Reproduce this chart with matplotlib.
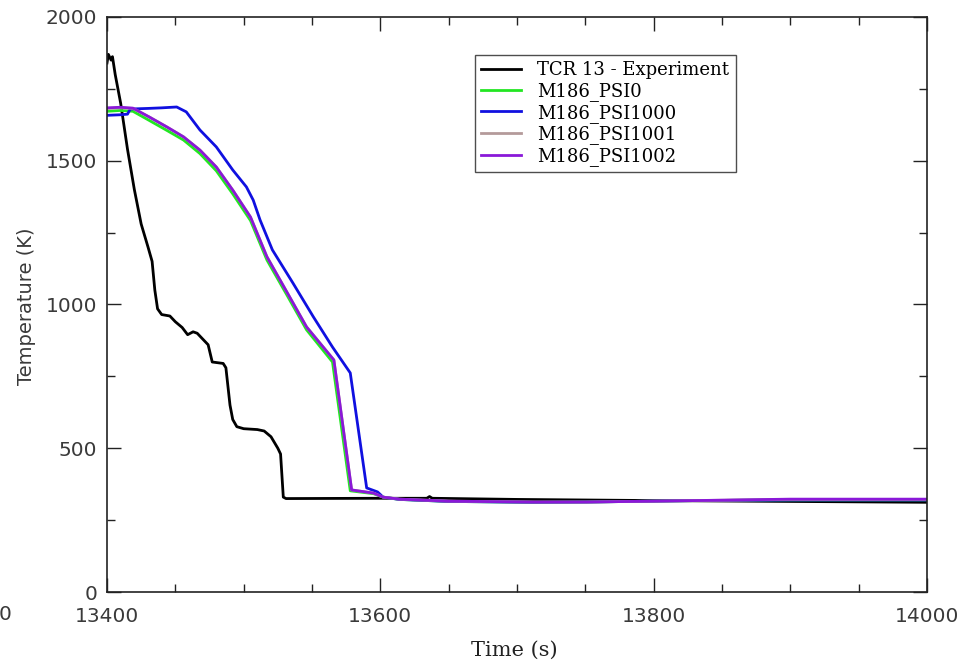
import matplotlib
matplotlib.use("Agg")
import matplotlib.pyplot as plt
from matplotlib.ticker import MultipleLocator

# ---- data ----
exp_t = [13400, 13401, 13403, 13404, 13406, 13410, 13415, 13420, 13425, 13430, 13433,
         13435, 13437, 13440, 13446, 13450, 13455, 13459, 13463, 13466, 13470, 13474,
         13477, 13485, 13487, 13490, 13492, 13495, 13500, 13510, 13515, 13520, 13525,
         13527, 13529, 13531, 13600, 13634, 13636, 13638, 13700, 13800, 14000]
exp_T = [1840, 1870, 1850, 1862, 1800, 1700, 1540, 1400, 1280, 1200, 1150,
         1050, 985, 965, 960, 940, 920, 895, 905, 900, 880, 860,
         800, 795, 780, 650, 600, 575, 568, 565, 560, 540, 500,
         480, 330, 325, 326, 326, 332, 326, 322, 318, 312]

psi0_t = [13400, 13410, 13419, 13431, 13444, 13456, 13468, 13480, 13492, 13505, 13517,
          13532, 13546, 13565, 13578, 13595, 13602, 13614, 13650, 13712, 13751, 13800,
          13830, 13900, 14000]
psi0_T = [1672, 1675, 1672, 1640, 1605, 1572, 1525, 1465, 1385, 1292, 1155,
          1030, 912, 800, 352, 342, 330, 322, 315, 312, 313, 316,
          318, 320, 320]

psi1000_t = [13400, 13410, 13415, 13417, 13430, 13440, 13451, 13458, 13468, 13480,
             13492, 13502, 13507, 13512, 13521, 13536, 13551, 13565, 13578, 13590,
             13598, 13602, 13614, 13650, 13712, 13751, 13800, 13830, 13900, 14000]
psi1000_T = [1658, 1660, 1662, 1680, 1682, 1684, 1687, 1670, 1607, 1548,
             1468, 1409, 1363, 1294, 1190, 1075, 957, 852, 762, 362,
             348, 330, 322, 315, 312, 313, 316, 318, 320, 320]

psi1001_t = [13400, 13410, 13419, 13431, 13444, 13456, 13468, 13480, 13492, 13505, 13517,
             13532, 13546, 13566, 13579, 13595, 13602, 13614, 13650, 13712, 13751, 13800,
             13830, 13900, 14000]
psi1001_T = [1682, 1684, 1682, 1652, 1617, 1583, 1537, 1478, 1398, 1304, 1166,
             1040, 922, 807, 355, 344, 330, 323, 316, 313, 313, 316,
             318, 322, 322]

psi1002_t = [13400, 13410, 13419, 13431, 13444, 13456, 13468, 13480, 13492, 13505, 13517,
             13532, 13546, 13566, 13579, 13595, 13602, 13614, 13650, 13712, 13751, 13800,
             13830, 13900, 14000]
psi1002_T = [1684, 1686, 1683, 1652, 1617, 1583, 1537, 1478, 1398, 1304, 1166,
             1040, 922, 807, 355, 344, 330, 323, 316, 313, 313, 316,
             318, 323, 323]

labels = ["TCR 13 - Experiment", "M186_PSI0", "M186_PSI1000", "M186_PSI1001", "M186_PSI1002"]
colors = ["#000000", "#22e622", "#1010e0", "#b49a9a", "#8a18d8"]

# ---- figure ----
fig = plt.figure(figsize=(9.77, 6.63), dpi=100)
ax = fig.add_axes([107/977, 1 - 592/663, 820/977, 575/663])

series = [(exp_t, exp_T), (psi0_t, psi0_T), (psi1000_t, psi1000_T),
          (psi1001_t, psi1001_T), (psi1002_t, psi1002_T)]
for (t, T), lab, c in zip(series, labels, colors):
    ax.plot(t, T, color=c, lw=2.0, label=lab)

ax.set_xlim(13400, 14000)
ax.set_ylim(0, 2000)
ax.xaxis.set_major_locator(MultipleLocator(200))
ax.xaxis.set_minor_locator(MultipleLocator(50))
ax.yaxis.set_major_locator(MultipleLocator(500))
ax.yaxis.set_minor_locator(MultipleLocator(250))
ax.tick_params(which="both", direction="in", top=True, right=True, color="#222222")
ax.tick_params(which="major", length=10, width=1.0)
ax.tick_params(which="minor", length=6, width=1.0)
ax.tick_params(axis="x", labelsize=14.5, pad=11, labelcolor="#3a3a3a")
ax.tick_params(axis="y", labelsize=14.5, pad=7, labelcolor="#3a3a3a")
for s in ax.spines.values():
    s.set_color("#222222")
    s.set_linewidth(1.2)

ax.set_xlabel("Time (s)", fontsize=15, family="DejaVu Serif", color="#222222")
ax.xaxis.set_label_coords((514 - 107) / 820, -(650 - 592) / 575)
ax.xaxis.label.set_verticalalignment("center")

fig.text(27/977, 1 - 306/663, "Temperature (K)", rotation=90, ha="center", va="center",
         fontsize=14, family="DejaVu Sans", color="#3a3a3a")
fig.text(5/977, 1 - 615/663, "0", ha="center", va="center", fontsize=14.5,
         family="DejaVu Sans", color="#3a3a3a")

leg = ax.legend(loc="upper left", bbox_to_anchor=((475-107)/820, (592-55)/575),
                prop={"family": "DejaVu Serif", "size": 13}, frameon=True, fancybox=False,
                borderpad=0.35, labelspacing=0.15, handlelength=2.2, handletextpad=0.9,
                borderaxespad=0)
leg.get_frame().set_edgecolor("#222222")
leg.get_frame().set_linewidth(1.0)

fig.savefig("out.png", dpi=100)
